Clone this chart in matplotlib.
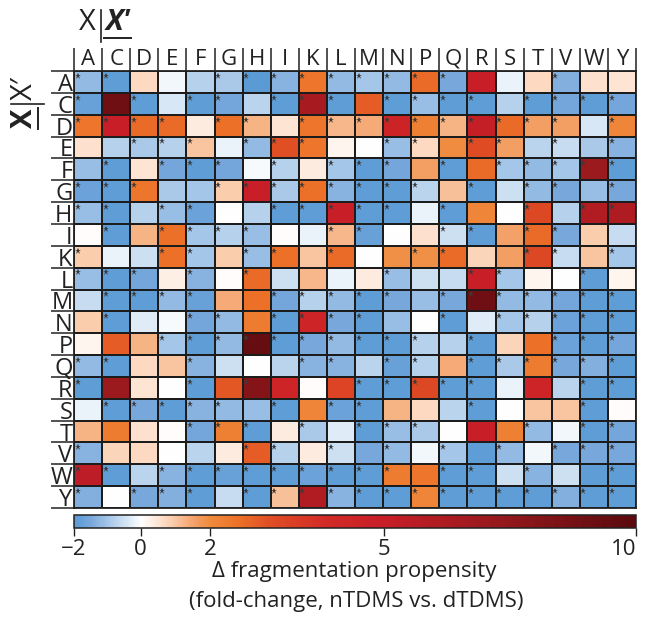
import numpy as np
import matplotlib
matplotlib.use('Agg')
import matplotlib.pyplot as plt
from matplotlib.colors import LinearSegmentedColormap, FuncNorm
from matplotlib.lines import Line2D

plt.rcParams['font.family'] = ['Open Sans', 'DejaVu Sans']

residues = ['A','C','D','E','F','G','H','I','K','L','M','N','P','Q','R','S','T','V','W','Y']

# fold change values, rows are X, columns are X'
row_A = [-1.2,-1.9,.7,-.1,-.8,-.9,-2,-1.3,2.4,-1.2,-1,-1.2,2.6,-1.5,5,-.2,.7,-1.4,.6,.5]
row_C = [-1.8,9,-1.9,-.4,-1.9,-1.6,-.7,-1.9,6.5,-1.9,2.8,-1.9,-1.1,-1.9,-1.9,-.8,-1.9,-1.6,-1.9,-1.6]
row_D = [2.4,5,2.6,2.6,.4,2.5,1.3,.5,2.4,1.2,1.4,4.6,2.2,1.3,5.2,2.6,1.6,1.6,-.4,2.1]
row_E = [.6,-.8,-.9,-.8,1,-.2,-1.2,3,2.4,.2,0,-1.1,.7,2,3.1,1.6,-.7,-.6,-.9,-1.3]
row_F = [-1.1,-1.9,.5,-1.6,-1.9,-1.6,-.05,-.8,.4,-1,-1.9,-1.6,1.6,-1.9,2.6,-1,-1.2,-1,7,-1.9]
row_G = [-1.7,-1.9,2.4,-.9,-1,.9,5,-.9,2.5,-1.3,-1.9,-1.9,-.7,1.1,-1.9,-.5,-1.2,-1.5,-1.1,-1.5]
row_H = [-1.1,-1.9,-.8,-1.1,-1.7,0,-.8,-1.9,-1.9,5,-1.9,-1.9,-.2,-1.9,2.1,0,3.2,-.8,6,6.2]
row_I = [.1,-1.9,1.3,2.5,-1,-.8,-1.1,.05,-.2,1.2,-1.8,0,.6,-.5,-1.9,1.5,2.6,-1.5,.9,-.6]
row_K = [.9,-.2,-.5,2.5,-1,.9,-1.1,2.5,1,2.6,0,1.9,1.9,2.6,.8,1.6,3.2,-.6,1,-1]
row_L = [-1.1,-1.9,-1.6,.3,-1.3,.1,2.6,-.5,1.2,-.2,.4,-1.1,-.5,-.6,5,-1,.2,0,-1.9,.2]
row_M = [-.6,-1.9,-1.9,-1.2,-1.8,1.4,2.5,-1.6,-.8,-1.2,-1.9,-1.5,-1.1,-1.5,9,-1.2,-1.2,-1.6,-1.9,-1.9]
row_N = [.9,-1.9,-.3,-.05,-1.6,-1.2,2.3,-1.9,4.5,-1.5,-1.9,-1.1,0,-1.9,-.3,-1,-.8,-1.7,-1.9,-1.9]
row_P = [.2,2.8,1.3,-1,-1.9,-1.2,9.5,-1.9,-1.5,-1.2,-1.9,-1.9,-.8,-.8,-1.9,.8,2.5,-1.7,-1.9,-1.6]
row_Q = [-1.2,-1.9,.7,1,-1.3,-.5,0,-.7,-1.3,-1.3,-.7,-1.8,-.8,1.4,-1.9,-.9,2.3,-1.5,-1.4,-1.9]
row_R = [-1.9,7,.5,0,-1.9,2.9,8,4.5,.1,3.3,-1.9,-1.9,3.2,-1.9,-1.9,-.2,4.5,-.7,-1.9,-1.9]
row_S = [-.2,-1.9,-1.5,-1.9,-1.3,-1.2,-1.1,-1.9,2.1,-1.7,-1.9,1.3,.7,-.7,-1.9,0,1,1,-1.9,.05]
row_T = [1.3,2.3,.6,.1,-1.6,2.2,-1.9,.4,-.9,-.3,-1.9,-1.1,-.9,.02,5,2.2,-1.2,-.1,-1.9,-1.6]
row_V = [-1.3,.8,.7,0,-.7,.4,2.8,-.8,.4,-.5,-1.5,-1.2,-.1,-1,-1.9,-1.2,-.1,-1.5,-1.5,-1.5]
row_W = [5.5,-1.9,-.7,-1.3,-1.9,-1.8,-1.9,-1.9,-1.7,-1.9,-1.9,2.3,2.4,-1.9,-1.9,-.5,-1.3,-.5,-1.9,-1.9]
row_Y = [-1.4,0,-1.5,-1.4,-1.9,-.6,-1.9,1.1,6,-1.3,-1.9,-1.9,2.1,-1.9,-1.9,-1.9,-1.9,-1.4,-1.9,-1.9]

# column numbers of the starred cells in each row
stars = [
    [0,1,5,6,7,8,9,10,11,12,13,17],
    [0,2,4,5,7,8,9,11,12,13,14,16,17,18,19],
    [0,1,2,3,5,6,8,9,10,11,12,13,14,15,16,17,19],
    [2,3,4,6,7,8,11,12,14,15,17,19],
    [1,3,4,5,7,9,10,11,13,15,16,17,18,19],
    [0,1,2,5,6,7,8,9,10,11,12,14,16,17,19],
    [0,1,3,4,7,8,9,10,11,13,16,18,19],
    [1,3,4,5,6,9,10,13,14,16,17],
    [0,3,4,6,7,9,12,13,16,17,19],
    [0,1,2,4,6,11,14,15,18],
    [1,2,3,4,7,8,9,10,11,13,14,15,16,17,18,19],
    [1,4,5,7,8,9,10,13,15,16,17,18,19],
    [3,4,5,6,7,8,9,10,11,12,14,17,18,19],
    [0,1,4,8,9,11,12,14,15,16,17,18,19],
    [0,4,6,10,11,12,13,14,18,19],
    [1,2,3,4,5,7,9,10,14,18],
    [4,5,6,8,10,11,12,16,18,19],
    [0,6,7,9,11,13,15,17,18,19],
    [0,1,3,4,5,6,7,8,9,10,11,13,14,16,19],
    [0,2,3,4,6,7,8,9,10,11,12,13,14,15,16,17,18,19],
]

values = np.array([row_A,row_C,row_D,row_E,row_F,row_G,row_H,row_I,row_K,row_L,
                   row_M,row_N,row_P,row_Q,row_R,row_S,row_T,row_V,row_W,row_Y])

tick_vals = [-2, 0, 2, 5, 10]
tick_labels = ['\u22122', '0', '2', '5', '10']
# the colorbar is not linear, these are the tick positions along it
tick_pos = [0.004, 0.122, 0.245, 0.553, 1.0]

def forward(v):
    return np.interp(v, tick_vals, tick_pos)

def inverse(p):
    return np.interp(p, tick_pos, tick_vals)

norm = FuncNorm((forward, inverse), vmin=-2, vmax=10)

color_vals = [-2,-1.5,-1,-.5,0,.5,1,1.5,2,2.5,3,4,5,7,10]
color_list = ['#5b9bd5','#7aa9dc','#a5c6e8','#d0e2f3','#ffffff','#fde4d3','#f9c5a0','#f4a26a',
              '#ef8a3c','#ec7028','#e04f24','#d22a26','#c81e28','#9c1a1e','#5a0a0e']
nodes = [float(norm(v)) for v in color_vals]
nodes[0], nodes[-1] = 0.0, 1.0
cmap = LinearSegmentedColormap.from_list('prop', list(zip(nodes, color_list)))

W, H = 647, 624
ink = '#222222'
fig = plt.figure(figsize=(W/100, H/100), dpi=100, facecolor='white')

def box(x0, y0, x1, y1):
    return [x0/W, 1 - y1/H, (x1-x0)/W, (y1-y0)/H]

ax = fig.add_axes(box(74, 71, 636, 508))
mesh = ax.pcolormesh(values, cmap=cmap, norm=norm, edgecolors='#1c1c1c', linewidth=1.3)
ax.invert_yaxis()
ax.xaxis.tick_top()
ax.set_xticks(np.arange(20) + .5, residues, fontsize=16, color=ink)
ax.set_yticks(np.arange(20) + .5, residues, fontsize=17, color=ink)
ax.tick_params(which='major', length=0, pad=1)
ax.set_xticks(np.arange(21), minor=True)
ax.set_yticks(np.arange(21), minor=True)
ax.tick_params(which='minor', length=16.5, width=1.1, color=ink)
for s in ax.spines.values():
    s.set_linewidth(1.3)
    s.set_color(ink)

for r, cols in enumerate(stars):
    for c in cols:
        ax.plot(c + .13, r + .22, marker='*', ms=5, color='#3a3a3a', mew=0)

cax = fig.add_axes(box(74, 515, 636, 528))
cb = fig.colorbar(mesh, cax=cax, orientation='horizontal', ticks=tick_vals)
cb.set_ticklabels(tick_labels)
cax.tick_params(length=6, width=1, pad=2, labelsize=16, labelcolor=ink, color=ink)
cax.minorticks_off()
cax.get_xticklabels()[-1].set_ha('right')
cb.outline.set_linewidth(1.1)
cb.outline.set_edgecolor(ink)

fig.text(354/W, 1 - 572/H, '\u0394 fragmentation propensity', ha='center', va='center', fontsize=16, color=ink)
fig.text(356/W, 1 - 601/H, '(fold-change, nTDMS vs. dTDMS)', ha='center', va='center', fontsize=16, color=ink)

# the two X|X' axis titles
fig.text(87/W, 1 - 23/H, 'X', ha='center', va='center', fontsize=21, color=ink)
fig.text(118/W, 1 - 23/H, 'X\u2032', ha='center', va='center', fontsize=21, fontweight='bold', fontstyle='italic', color=ink)
fig.add_artist(Line2D([101/W, 101/W], [1 - 10/H, 1 - 42/H], color=ink, lw=1.2))
fig.add_artist(Line2D([104/W, 131/W], [1 - 38/H, 1 - 38/H], color=ink, lw=1.4))

fig.text(24/W, 1 - 88/H, 'X\u2032', ha='center', va='center', rotation=90, fontsize=21, color=ink)
fig.text(24/W, 1 - 118/H, 'X', ha='center', va='center', rotation=90, fontsize=21, fontweight='bold', color=ink)
fig.add_artist(Line2D([11/W, 44/W], [1 - 104/H, 1 - 104/H], color=ink, lw=1.2))
fig.add_artist(Line2D([38/W, 38/W], [1 - 108/H, 1 - 129/H], color=ink, lw=1.4))

fig.savefig('out.png', dpi=100)
